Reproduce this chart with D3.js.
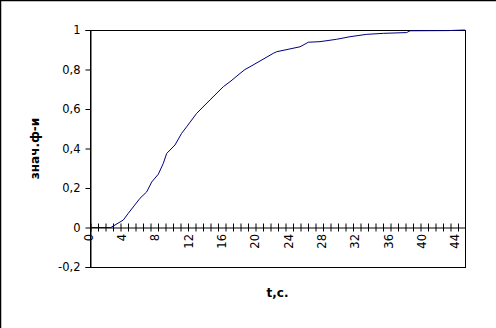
<!DOCTYPE html>
<html>
<head>
<meta charset="utf-8">
<script src="https://cdn.jsdelivr.net/npm/d3@7"></script>
<style>
  body { margin: 0; background: #fff; }
  text { font-family: "DejaVu Sans", Verdana, sans-serif; }
</style>
</head>
<body>
<svg id="mainsvg" width="496" height="328"></svg>
<script>
// time, s
const times = [0, 2.5, 4.0, 4.6, 6.0, 6.8, 7.4, 8.2, 8.8, 9.2, 10.2, 11.0, 11.6, 12.8, 14.4, 16.0, 16.8, 18.0, 18.6, 19.2, 20.4, 22.0, 22.4, 25.2, 26.2, 27.6, 29.6, 31.2, 33.2, 35.2, 38.0, 38.4, 43.0, 45]
// function value
const values = [0, 0, 0.038, 0.072, 0.148, 0.18, 0.23, 0.27, 0.325, 0.375, 0.418, 0.477, 0.51, 0.578, 0.646, 0.713, 0.738, 0.78, 0.80, 0.814, 0.843, 0.882, 0.89, 0.915, 0.938, 0.941, 0.953, 0.966, 0.978, 0.983, 0.987, 0.996, 0.997, 1.0]
const xLabels = [0, 4, 8, 12, 16, 20, 24, 28, 32, 36, 40, 44]
const yLabels = [-0.2, 0, 0.2, 0.4, 0.6, 0.8, 1]
const xMinorStep = 0.9
const xTitle = 't,c.'
const yTitle = 'знач.ф-и'

const svg = d3.select('#mainsvg')
const plotL = 90, plotR = 465, plotT = 30, plotB = 267

const x = d3.scaleLinear().domain([0, 45]).range([plotL, plotR])
const y = d3.scaleLinear().domain([-0.2, 1]).range([plotB, plotT])
const fmt = v => String(Math.round(v * 10) / 10).replace('.', ',')

// outer border (top and left only)
svg.append('path')
  .attr('d', 'M0.5,328 L0.5,0.5 L496,0.5')
  .attr('fill', 'none')
  .attr('stroke', 'black')
  .attr('stroke-width', 1.5)

// plot frame
svg.append('rect')
  .attr('x', plotL + 0.5)
  .attr('y', plotT + 0.5)
  .attr('width', plotR - plotL)
  .attr('height', plotB - plotT)
  .attr('fill', 'none')
  .attr('stroke', 'black')

// y axis
const yAxis = svg.append('g')
  .attr('transform', `translate(${plotL + 0.5},0)`)
  .call(d3.axisLeft(y).tickValues(yLabels).tickFormat(fmt).tickSize(5).tickPadding(5))
yAxis.select('.domain').attr('stroke', 'black')
yAxis.selectAll('text').attr('font-size', 11.5).attr('fill', 'black').attr('font-family', '"DejaVu Sans", sans-serif')

// x axis along zero, minor ticks crossing the line
const minorTicks = d3.range(0, 45, xMinorStep)
const xAxisMinor = svg.append('g')
  .attr('transform', `translate(0.5,${Math.round(y(0)) + 0.5})`)
  .call(d3.axisBottom(x).tickValues(minorTicks).tickFormat('').tickSizeInner(4).tickSizeOuter(0))
xAxisMinor.selectAll('.tick line').attr('y1', -4).attr('y2', 4).attr('stroke', 'black')
xAxisMinor.select('.domain').attr('stroke', 'black')

const xAxisLabels = svg.append('g')
  .attr('transform', `translate(0,${Math.round(y(0))})`)
  .call(d3.axisBottom(x).tickValues(xLabels).tickSize(0))
xAxisLabels.select('.domain').remove()
xAxisLabels.selectAll('text')
  .attr('font-size', 11.5)
  .attr('fill', 'black')
  .attr('font-family', '"DejaVu Sans", sans-serif')
  .attr('text-anchor', 'end')
  .attr('transform', 'rotate(-90)')
  .attr('x', -7)
  .attr('y', -2)
  .attr('dy', '0.35em')

// line
const line = d3.line()
  .x((d, i) => x(times[i]))
  .y(d => y(d))
svg.append('path')
  .datum(values)
  .attr('d', line)
  .attr('fill', 'none')
  .attr('stroke', '#000080')
  .attr('stroke-width', 1)

// titles
svg.append('text')
  .attr('x', (plotL + plotR) / 2)
  .attr('y', 297)
  .attr('text-anchor', 'middle')
  .attr('font-size', 12)
  .attr('font-weight', 'bold')
  .text(xTitle)

svg.append('text')
  .attr('transform', `translate(39,${(plotT + plotB) / 2}) rotate(-90)`)
  .attr('text-anchor', 'middle')
  .attr('font-size', 12)
  .attr('font-weight', 'bold')
  .text(yTitle)
</script>
</body>
</html>
